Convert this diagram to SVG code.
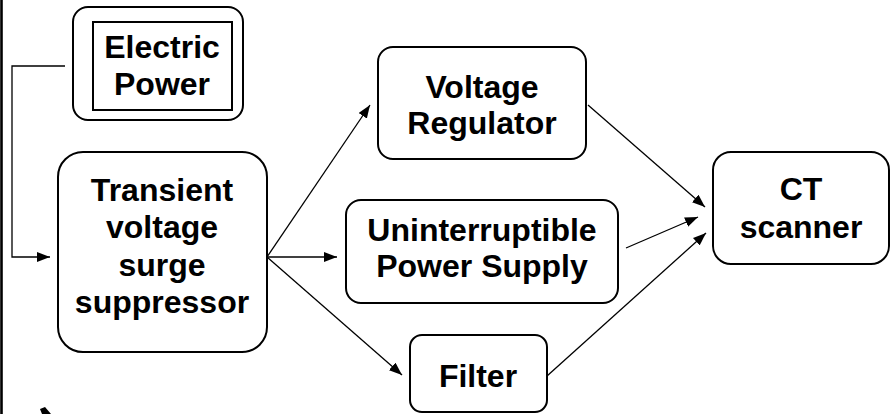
<svg xmlns="http://www.w3.org/2000/svg" width="891" height="414" viewBox="0 0 891 414">
<style>
.box{fill:#fff;stroke:#000;stroke-width:2}
.lbl{font-family:"Liberation Sans",Arial,sans-serif;font-weight:bold;font-size:32px;fill:#000;text-anchor:middle}
.con{fill:none;stroke:#000;stroke-width:1.3}
</style>
<defs>
<marker id="ah" markerUnits="userSpaceOnUse" markerWidth="14" markerHeight="10" refX="13" refY="5" orient="auto">
<path d="M0,0 L13,5 L0,10 z" fill="#000"/>
</marker>
</defs>
<rect x="0" y="0" width="891" height="414" fill="#fff"/>
<line x1="1.5" y1="0" x2="1.5" y2="414" stroke="#000" stroke-width="2.6"/>
<polygon points="40,409 45,407 51,414 42,414" fill="#000"/>
<g id="connectors">
<polyline class="con" points="65,66 12,66 12,257 50,257" marker-end="url(#ah)"/>
<line class="con" x1="267" y1="257" x2="370" y2="105" marker-end="url(#ah)"/>
<line class="con" x1="267" y1="257" x2="337" y2="257" marker-end="url(#ah)"/>
<line class="con" x1="267" y1="257" x2="402" y2="375" marker-end="url(#ah)"/>
<line class="con" x1="588" y1="105" x2="705" y2="207" marker-end="url(#ah)"/>
<line class="con" x1="626" y1="248" x2="698" y2="217" marker-end="url(#ah)"/>
<line class="con" x1="547" y1="376" x2="706" y2="233" marker-end="url(#ah)"/>
</g>
<g id="electric-power">
<rect class="box" x="73" y="7" width="170" height="113" rx="15"/>
<rect class="box" x="93" y="22" width="139" height="88"/>
<text class="lbl" x="162" y="58">Electric</text>
<text class="lbl" x="162" y="95">Power</text>
</g>
<g id="tvss">
<rect class="box" x="58" y="152" width="209" height="200" rx="25"/>
<text class="lbl" x="162" y="201">Transient</text>
<text class="lbl" x="162" y="238">voltage</text>
<text class="lbl" x="162" y="276">surge</text>
<text class="lbl" x="162" y="313">suppressor</text>
</g>
<g id="voltage-regulator">
<rect class="box" x="378" y="47" width="208" height="112" rx="15"/>
<text class="lbl" x="482" y="98">Voltage</text>
<text class="lbl" x="482" y="134">Regulator</text>
</g>
<g id="ups">
<rect class="box" x="346" y="200" width="272" height="103" rx="15"/>
<text class="lbl" x="482" y="241">Uninterruptible</text>
<text class="lbl" x="482" y="277">Power Supply</text>
</g>
<g id="filter">
<rect class="box" x="410" y="335" width="137" height="77" rx="12"/>
<text class="lbl" x="478" y="387">Filter</text>
</g>
<g id="ct-scanner">
<rect class="box" x="713" y="152" width="176" height="112" rx="18"/>
<text class="lbl" x="801" y="200">CT</text>
<text class="lbl" x="801" y="238">scanner</text>
</g>
</svg>
